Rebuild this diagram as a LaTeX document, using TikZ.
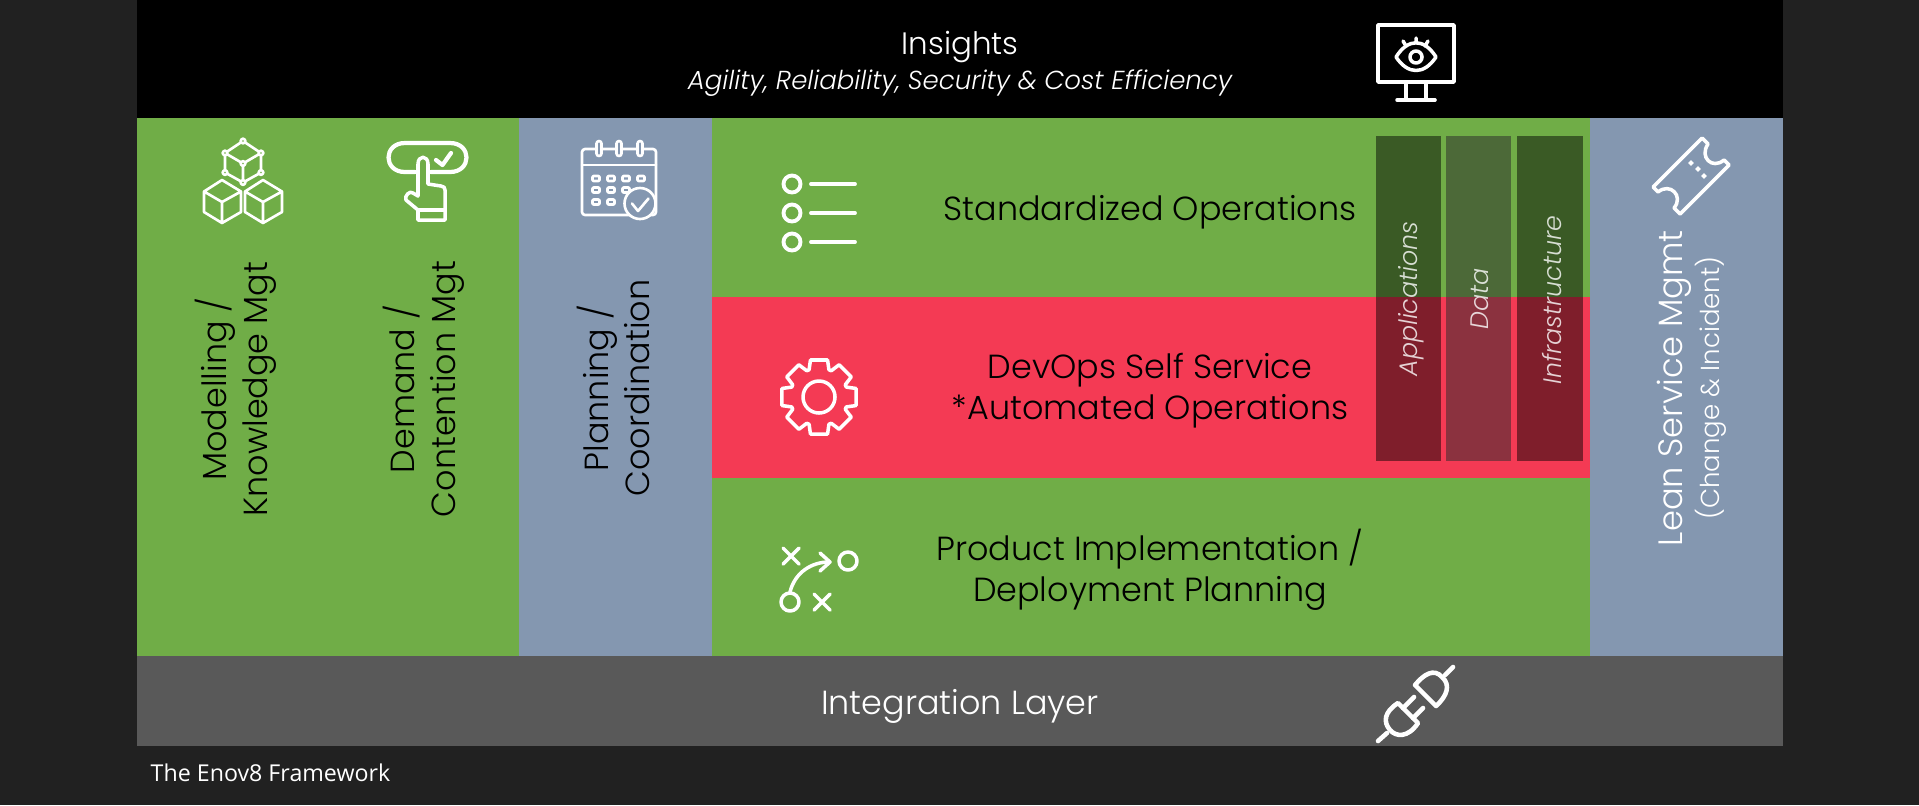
\documentclass[tikz,border=0pt]{standalone}
\usepackage{fontspec}
\setmainfont{Poppins}[UprightFont=* Light,ItalicFont=* Light Italic]
\newfontfamily\capfont{Open Sans}
\usepackage{xcolor}
\usepackage{tikz}
\usetikzlibrary{positioning,calc}
\definecolor{pagebg}{HTML}{212121}
\definecolor{leafgreen}{HTML}{70AD47}
\definecolor{slateblue}{HTML}{8497B0}
\definecolor{alertred}{HTML}{F43A54}
\definecolor{layergray}{HTML}{595959}
\definecolor{stackgray}{HTML}{2C2C2C}
\tikzset{
    lbl/.style={font=\fontsize{9.5}{11.7}\selectfont,align=center,inner sep=0pt},
    vlbl/.style={lbl,rotate=90},
    barlbl/.style={font=\fontsize{7.2}{8}\selectfont\itshape,text=white,text opacity=.8,rotate=90,inner sep=0pt},
    icon/.style={draw=white,line width=1pt,line cap=round,line join=round},
    thinicon/.style={icon,line width=.75pt}
}
\begin{document}
\begin{tikzpicture}[x=0.01cm,y=-0.01cm]
    \useasboundingbox (0,0) rectangle (1919,805);
    \fill[pagebg] (0,0) rectangle (1919,805);

    % Bands and panels
    \fill[black] (137,0) rectangle (1783,118);
    \fill[leafgreen] (137,118) rectangle (519,656);
    \fill[slateblue] (519,118) rectangle (712,656);
    \fill[leafgreen] (712,118) rectangle (1590,656);
    \fill[alertred] (712,297) rectangle (1590,477.5);
    \fill[slateblue] (1590,118) rectangle (1783,656);
    \fill[layergray] (137,656) rectangle (1783,746);

    % Stacks
    \fill[black,opacity=.48] (1376,136) rectangle (1441,461);
    \fill[stackgray,opacity=.52] (1446,136) rectangle (1511,461);
    \fill[black,opacity=.48] (1517,136) rectangle (1583,461);

    % Texts
    \node[lbl,text=white,font=\fontsize{8.8}{11}\selectfont] (insights) at (960,47) {Insights};
    \node[lbl,text=white,font=\fontsize{7.4}{9}\selectfont\itshape] (goals) at (960,83) {Agility, Reliability, Security \& Cost Efficiency};
    \node[lbl] (stdops) at (1150,212) {Standardized Operations};
    \node[lbl] (devops) at (1150,391) {DevOps Self Service\\*Automated Operations};
    \node[lbl] (product) at (1150,570) {Product Implementation /\\Deployment Planning};
    \node[lbl,text=white] (integration) at (960,706) {Integration Layer};
    \node[vlbl] (modelling) at (236,389) {Modelling /\\Knowledge Mgt};
    \node[vlbl] (demand) at (424,389) {Demand /\\Contention Mgt};
    \node[vlbl] (planning) at (613,388) {Planning /\\Coordination};
    \node[vlbl,text=white,font=\fontsize{9.6}{11}\selectfont] (lean) at (1674,388) {Lean Service Mgmt};
    \node[vlbl,text=white,font=\fontsize{7.4}{8}\selectfont] (change) at (1711,388) {(Change \& Incident)};
    \node[barlbl] (apps) at (1411,299) {Applications};
    \node[barlbl] (data) at (1480,299) {Data};
    \node[barlbl] (infra) at (1552,300) {Infrastructure};
    \node[inner sep=0pt,text=white,font=\capfont\fontsize{6.6}{8}\selectfont] (caption) at (270.5,773) {The Enov8 Framework};

    % Monitor with eye
    \draw[icon] (1378,25) rectangle (1454,82);
    \draw[icon] (1406,82) -- (1406,100) (1426,82) -- (1426,100) (1397,100) -- (1435,100);
    \draw[icon] (1396,57) .. controls (1408,38) and (1424,38) .. (1436,57) .. controls (1424,75) and (1408,75) .. cycle;
    \draw[icon] (1416,57) circle[radius=6];
    \draw[icon] (1416,38) -- (1416,43) (1403,41) -- (1406,46) (1428,41) -- (1425,46);

    % Ticket
    \draw[icon] (1702,138) -- (1708,144) .. controls (1699,157) and (1712,170) .. (1724,160) -- (1729,165) -- (1680,214) -- (1674,208) .. controls (1684,196) and (1670,182) .. (1658,192) -- (1653,187) -- cycle;
    \foreach \dotx/\doty in {1691/163,1698/169,1704/176}
        \fill[white,rotate around={45:(\dotx,\doty)}] (\dotx-2,\doty-2) rectangle (\dotx+2,\doty+2);

    % Cubes
    \draw[thinicon] (243,141) -- (261,153) -- (261,172.5) -- (243,182.5) -- (225,172.5) -- (225,153) -- cycle
        (225,153) -- (243,163.5) -- (261,153) (243,163.5) -- (243,182.5);
    \foreach \ptx/\pty in {243/141,261/153,261/172.5,243/182.5,225/172.5,225/153,243/163.5}
        \filldraw[thinicon,fill=leafgreen] (\ptx,\pty) circle[radius=2.3];
    \foreach \cubex in {0,41} {
        \draw[thinicon,shift={(\cubex,0)}] (222,180) -- (241,191.5) -- (241,212) -- (222,223) -- (204,212) -- (204,191.5) -- cycle
            (204,191.5) -- (222,202) -- (241,191.5) (222,202) -- (222,223);
    }

    % Touch button
    \draw[icon,line width=1.2pt] (415,172) -- (405,172) .. controls (383,172) and (383,143) .. (405,143) -- (450,143) .. controls (472,143) and (472,172) .. (450,172) -- (431,172);
    \draw[icon,line width=1.2pt] (436,160) -- (442.5,165) -- (451,153);
    \draw[icon] (418,196) -- (418,164) .. controls (418,155) and (428,155) .. (428,164) -- (428,184) -- (441,186) .. controls (444,186) and (445,188) .. (445,190) -- (445,220) -- (418,220) -- (418,210) -- (406,200) .. controls (404,196) and (410,190) .. (413,193) -- cycle;
    \draw[icon] (418,210) -- (445,210);

    % Calendar
    \draw[thinicon,rounded corners=.03cm] (582,149) rectangle (656,215);
    \draw[thinicon] (582,165) -- (656,165);
    \foreach \ringx in {599,619,640}
        \filldraw[thinicon,fill=slateblue,rounded corners=.025cm] (\ringx-2.5,141) rectangle (\ringx+2.5,156);
    \foreach \cellx/\celly in {596/178.5,611/178.5,626/178.5,641/178.5,596/190,611/190,626/190,596/202,611/202}
        \draw[thinicon,rounded corners=.01cm] (\cellx-3.5,\celly-2.5) rectangle (\cellx+3.5,\celly+2.5);
    \filldraw[thinicon,fill=slateblue] (640,203.5) circle[radius=15.5];
    \draw[thinicon] (632,203.5) -- (638,211) -- (648.5,198.5);

    % List
    \foreach \rowy in {184,213,242} {
        \draw[icon,line width=1.1pt] (792,\rowy) circle[radius=8.5];
        \draw[icon,line width=1.1pt] (811,\rowy) -- (855,\rowy);
    }

    % Gear
    \draw[icon] ($(819,397)+(-13:38)$) \foreach \toothang in {0,45,...,315} { -- ($(819,397)+(\toothang-13:38)$) -- ($(819,397)+(\toothang+13:38)$) -- ($(819,397)+(\toothang+20:29)$) -- ($(819,397)+(\toothang+25:29)$) } -- cycle;
    \draw[icon] (819,397) circle[radius=16];

    % Plays
    \draw[icon] (783,548) -- (799,564) (799,548) -- (783,564);
    \draw[icon] (814,594) -- (830,610) (830,594) -- (814,610);
    \draw[icon] (848,561) circle[radius=9];
    \draw[icon] (790,602) circle[radius=9];
    \draw[icon] (790,592) .. controls (795,572) and (812,562) .. (829,562);
    \draw[icon] (820,553) -- (830,562) -- (820,571);

    % Plug
    \draw[icon,line width=1.3pt] (1453,667) -- (1445,675);
    \draw[icon,line width=1.3pt] (1415,685) -- (1436,706) .. controls (1447,696) and (1451,685) .. (1442,677) .. controls (1434,668) and (1424,674) .. cycle;
    \draw[icon,line width=1.3pt] (1378,741) -- (1387,733);
    \draw[icon,line width=1.3pt] (1398,703) -- (1418,723) .. controls (1408,738) and (1396,737) .. (1390,730) .. controls (1383,722) and (1384,712) .. cycle;
    \draw[icon,line width=1.3pt] (1403,708) -- (1414,697) (1413,718) -- (1423,708);
\end{tikzpicture}
\end{document}
